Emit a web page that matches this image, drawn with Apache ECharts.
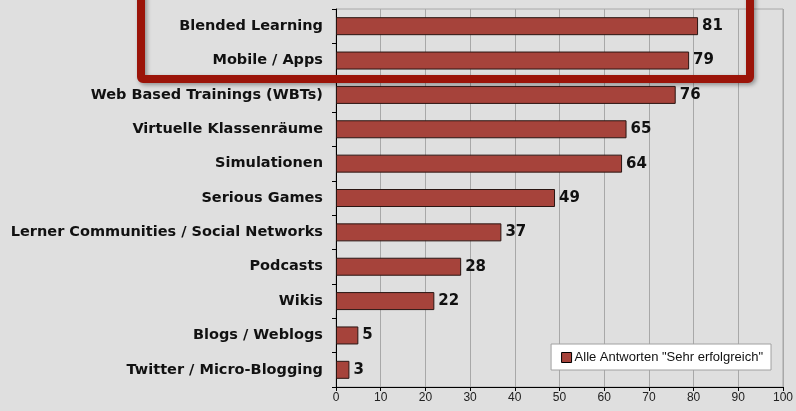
<!DOCTYPE html>
<html>
<head>
<meta charset="utf-8">
<style>
  html, body { margin: 0; padding: 0; background: #dfdfdf; }
  #chart { width: 796px; height: 411px; }
</style>
<script src="https://cdn.jsdelivr.net/npm/echarts@6/dist/echarts.min.js"></script>
</head>
<body>
<div id="chart"></div>
<script>
var categories = ['Blended Learning', 'Mobile / Apps', 'Web Based Trainings (WBTs)', 'Virtuelle Klassenräume',
    'Simulationen', 'Serious Games', 'Lerner Communities / Social Networks', 'Podcasts', 'Wikis',
    'Blogs / Weblogs', 'Twitter / Micro-Blogging'];
var values = [81, 79, 76, 65, 64, 49, 37, 28, 22, 5, 3];
var seriesName = 'Alle Antworten "Sehr erfolgreich"';

var chart = echarts.init(document.getElementById('chart'));

var option = {
    backgroundColor: '#dfdfdf',
    animation: false,
    grid: {
        left: 336,
        right: 13,
        top: 9,
        bottom: 24,
        show: true,
        borderColor: '#a8a8a8',
        borderWidth: 1
    },
    legend: {
        data: [{ name: seriesName, icon: 'rect' }],
        right: 25,
        bottom: 41,
        backgroundColor: '#ffffff',
        borderColor: '#a0a0a0',
        borderWidth: 1,
        borderRadius: 0,
        padding: [7, 8, 6, 10],
        itemWidth: 10,
        itemHeight: 10,
        itemGap: 4,
        itemStyle: { borderColor: '#000', borderWidth: 1 },
        textStyle: { fontFamily: 'Liberation Sans', fontSize: 13, color: '#111', padding: [0, 0, 0, -2] }
    },
    xAxis: {
        type: 'value',
        min: 0,
        max: 100,
        interval: 10,
        axisLine: { show: true, lineStyle: { color: '#000', width: 1 } },
        axisTick: { show: true, length: 4, lineStyle: { color: '#000' } },
        axisLabel: { fontFamily: 'Liberation Sans', fontSize: 12, color: '#222', margin: 5 },
        splitLine: { show: true, lineStyle: { color: '#a8a8a8', width: 1 } }
    },
    yAxis: {
        type: 'category',
        inverse: true,
        data: categories,
        axisLine: { show: true, lineStyle: { color: '#000', width: 1 } },
        axisTick: { show: true, length: 4, lineStyle: { color: '#000' } },
        axisLabel: { fontFamily: 'DejaVu Sans', fontWeight: 'bold', fontSize: 14.5, color: '#111', margin: 13 }
    },
    series: [{
        name: seriesName,
        type: 'bar',
        data: values,
        barWidth: 18,
        itemStyle: { color: '#a6433b', borderColor: '#2a1512', borderWidth: 1 },
        label: {
            show: true,
            position: 'right',
            distance: 4,
            fontFamily: 'DejaVu Sans',
            fontWeight: 'bold',
            fontSize: 15,
            color: '#111'
        }
    }],
    graphic: [{
        type: 'rect',
        shape: { x: 141, y: -20, width: 609, height: 99, r: 2 },
        style: {
            fill: 'none',
            stroke: '#9b1409',
            lineWidth: 8,
            shadowBlur: 4,
            shadowOffsetX: 2,
            shadowOffsetY: 2,
            shadowColor: 'rgba(0,0,0,0.35)'
        },
        z: 100
    }]
};

chart.setOption(option);
</script>
</body>
</html>
